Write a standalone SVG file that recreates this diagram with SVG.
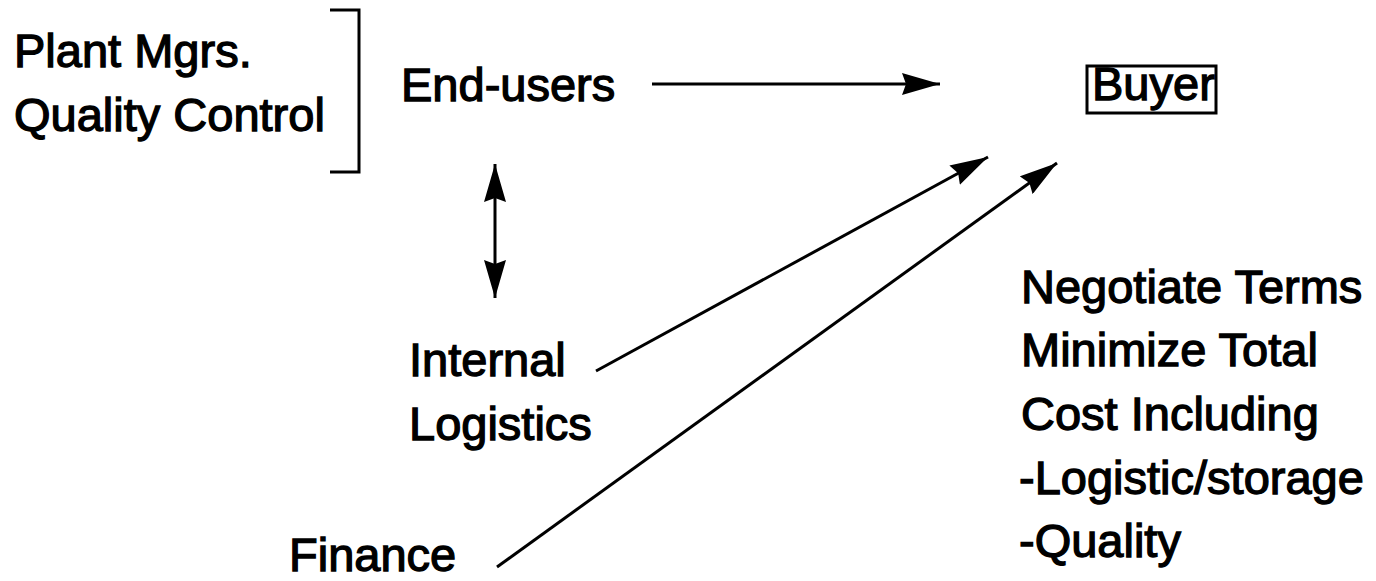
<svg xmlns="http://www.w3.org/2000/svg" width="1376" height="581" viewBox="0 0 1376 581">
<style>
text{font-family:"Liberation Sans",Arial,sans-serif;font-size:47px;fill:#000;stroke:#000;stroke-width:1.3px}
.ln{stroke:#000;stroke-width:3;fill:none}
</style>
<defs>
<marker id="ah" viewBox="0 0 38 22" refX="38" refY="11" markerWidth="38" markerHeight="22" markerUnits="userSpaceOnUse" orient="auto-start-reverse">
<path d="M0,0 L38,11 L0,22 L4,11 Z" fill="#000"/>
</marker>
</defs>
<rect width="1376" height="581" fill="#fff"/>
<g id="plant-quality">
<text x="14" y="67">Plant Mgrs.</text>
<text x="14" y="131">Quality Control</text>
<path class="ln" d="M330,10 H359 V172 H330"/>
</g>
<g id="end-users"><text x="401" y="101">End-users</text></g>
<g id="buyer">
<rect x="1087" y="66" width="129" height="47" fill="none" stroke="#000" stroke-width="3"/>
<text x="1092" y="100">Buyer</text>
</g>
<g id="internal-logistics">
<text x="409" y="376">Internal</text>
<text x="409" y="440">Logistics</text>
</g>
<g id="finance"><text x="289" y="571">Finance</text></g>
<g id="buyer-notes">
<text x="1021" y="303">Negotiate Terms</text>
<text x="1021" y="366">Minimize Total</text>
<text x="1021" y="430">Cost Including</text>
<text x="1019" y="494">-Logistic/storage</text>
<text x="1019" y="557">-Quality</text>
</g>
<g id="connectors">
<line class="ln" x1="652" y1="84" x2="940" y2="84" marker-end="url(#ah)"/>
<line class="ln" x1="495" y1="164" x2="495" y2="298" marker-start="url(#ah)" marker-end="url(#ah)"/>
<line class="ln" x1="596" y1="371" x2="988" y2="157" marker-end="url(#ah)"/>
<line class="ln" x1="497" y1="567" x2="1057" y2="163" marker-end="url(#ah)"/>
</g>
</svg>
